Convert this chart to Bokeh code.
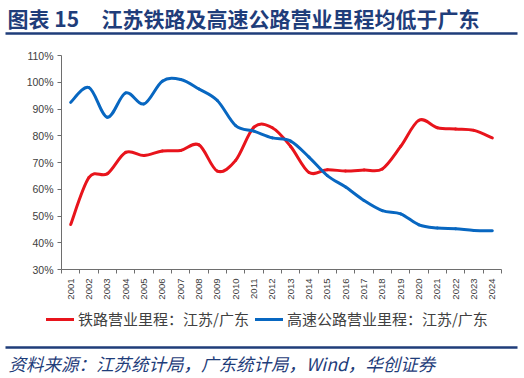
import numpy as np
from bokeh.plotting import figure
from bokeh.models import Range1d, FixedTicker, Legend, LegendItem, PrintfTickFormatter
from bokeh.layouts import column
from bokeh.embed import file_html
from bokeh.resources import INLINE
from bokeh.core.properties import value

# ---------------- data ----------------
years = ["2001", "2002", "2003", "2004", "2005", "2006", "2007", "2008",
         "2009", "2010", "2011", "2012", "2013", "2014", "2015", "2016",
         "2017", "2018", "2019", "2020", "2021", "2022", "2023", "2024"]
rail = [46.8, 64.4, 65.8, 73.8, 72.6, 74.3, 74.5, 76.6, 66.8, 70.8, 83.2, 83.0,
        76.0, 66.3, 67.3, 66.8, 67.2, 67.6, 76.0, 85.8, 83.0, 82.5, 82.0, 79.2]
highway = [92.5, 98.0, 86.9, 96.0, 91.9, 100.4, 101.0, 97.5, 93.2, 83.8, 81.7, 79.2,
           78.0, 72.0, 65.1, 60.8, 55.8, 52.0, 50.8, 46.7, 45.5, 45.2, 44.6, 44.5]
y_ticks = [30, 40, 50, 60, 70, 80, 90, 100, 110]
rail_name = "铁路营业里程：江苏/广东"
highway_name = "高速公路营业里程：江苏/广东"
fig_label = "图表 15"
title_text = "江苏铁路及高速公路营业里程均低于广东"
source_text = "资料来源：江苏统计局，广东统计局，Wind，华创证券"

# ---------------- styling / layout constants ----------------
NAVY = "#1F3D7A"
RED = "#E8141C"
BLUE = "#0867C1"
AXIS = "#6E6E6E"
CJK = "Noto Sans CJK SC"
W = 524
HDR_H, MAIN_H, FTR_H = 42, 298, 36
# plot-area box inside the main figure (pixels from its top-left)
PL, PR, PT, PB = 61, 501, 13, 227
Y0, Y1 = 30, 110


def smooth_segments(xs, ys):
    """Catmull-Rom -> cubic Bezier control points (Excel-like smoothed line)."""
    xs = np.asarray(xs, float)
    ys = np.asarray(ys, float)
    n = len(xs)
    out = {k: [] for k in ("x0", "y0", "x1", "y1", "cx0", "cy0", "cx1", "cy1")}
    for i in range(n - 1):
        a, b = max(i - 1, 0), min(i + 2, n - 1)
        out["x0"].append(xs[i]); out["y0"].append(ys[i])
        out["x1"].append(xs[i + 1]); out["y1"].append(ys[i + 1])
        out["cx0"].append(xs[i] + (xs[i + 1] - xs[a]) / 6)
        out["cy0"].append(ys[i] + (ys[i + 1] - ys[a]) / 6)
        out["cx1"].append(xs[i + 1] - (xs[b] - xs[i]) / 6)
        out["cy1"].append(ys[i + 1] - (ys[b] - ys[i]) / 6)
    return out


def bare(height):
    fig = figure(width=W, height=height, output_backend="svg", toolbar_location=None,
                 x_range=Range1d(0, W), y_range=Range1d(0, height),
                 x_axis_location=None, y_axis_location=None, min_border=0)
    fig.grid.visible = False
    fig.outline_line_color = None
    fig.background_fill_color = None
    fig.border_fill_color = "white"
    return fig


# ---------------- header ----------------
hdr = bare(HDR_H)
hdr.text(x=[7], y=[HDR_H - 17], text=[fig_label], text_font=value(CJK), text_font_style="bold",
         text_font_size="21px", text_color=NAVY, text_baseline="middle")
hdr.text(x=[101], y=[HDR_H - 17], text=[title_text], text_font=value(CJK), text_font_style="bold",
         text_font_size="21px", text_color=NAVY, text_baseline="middle")
hdr.segment(x0=[5], y0=[HDR_H - 33], x1=[517], y1=[HDR_H - 33], line_color=NAVY, line_width=2.5)

# ---------------- main chart ----------------
n = len(years)
xi = list(range(n))
xpx = (PR - PL) / n                 # pixels per category
ypx = (PB - PT) / (Y1 - Y0)         # pixels per percentage point
x_range = Range1d(-0.5 - PL / xpx, n - 0.5 + (W - PR) / xpx)
y_range = Range1d(Y0 - (MAIN_H - PB) / ypx, Y1 + PT / ypx)

p = figure(width=W, height=MAIN_H, output_backend="svg", toolbar_location=None,
           x_range=x_range, y_range=y_range, min_border=0)
p.grid.visible = False
p.outline_line_color = None
p.background_fill_color = None
p.border_fill_color = "white"

r_rail = p.bezier(line_color=RED, line_width=3, line_cap="round", **smooth_segments(xi, rail))
r_hw = p.bezier(line_color=BLUE, line_width=3, line_cap="round", **smooth_segments(xi, highway))

xa = p.xaxis[0]
xa.fixed_location = Y0
xa.bounds = (-0.5, n - 0.5)
xa.ticker = FixedTicker(ticks=xi, minor_ticks=[i - 0.5 for i in range(n + 1)])
xa.major_label_overrides = {i: years[i] for i in xi}
xa.major_label_orientation = np.pi / 2
xa.major_tick_out = 0
xa.major_tick_in = 0
xa.minor_tick_out = 4
xa.minor_tick_in = 0
xa.major_label_standoff = 5

ya = p.yaxis[0]
ya.fixed_location = -0.5
ya.bounds = (Y0, Y1)
ya.ticker = FixedTicker(ticks=y_ticks)
ya.formatter = PrintfTickFormatter(format="%d%%")
ya.major_tick_out = 4
ya.major_tick_in = 0
ya.minor_tick_out = 0
ya.minor_tick_in = 0
ya.major_label_standoff = 4

for ax in (xa, ya):
    ax.axis_line_color = AXIS
    ax.major_tick_line_color = AXIS
    ax.minor_tick_line_color = AXIS
    ax.major_label_text_font = "Liberation Sans"
    ax.major_label_text_color = "#404040"
xa.major_label_text_font_size = "9.5px"
ya.major_label_text_font_size = "10.5px"

legend = Legend(items=[LegendItem(label=rail_name, renderers=[r_rail]),
                       LegendItem(label=highway_name, renderers=[r_hw])],
                orientation="horizontal", location=(46, MAIN_H - 287),
                label_text_font=CJK, label_text_font_size="15px", label_text_color="#404040",
                glyph_width=28, glyph_height=16, label_standoff=4, spacing=6,
                padding=2, margin=0, border_line_color=None, background_fill_alpha=0)
p.add_layout(legend)

# ---------------- footer ----------------
ftr = bare(FTR_H)
ftr.segment(x0=[5], y0=[FTR_H - 7], x1=[517], y1=[FTR_H - 7], line_color=NAVY, line_width=2.5)
ftr.text(x=[8], y=[FTR_H - 23], text=[source_text], text_font=value(CJK), text_font_style="italic",
         text_font_size="17.5px", text_color=NAVY, text_baseline="middle")

layout = column(hdr, p, ftr, spacing=0)
open("out.html", "w").write(file_html(layout, INLINE))
